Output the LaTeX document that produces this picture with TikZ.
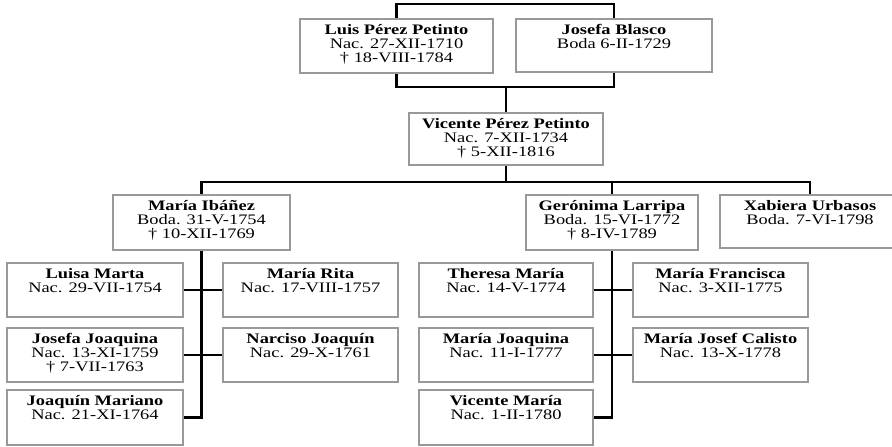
\documentclass[tikz,border=0pt]{standalone}
\usepackage{fontspec}
\setmainfont{Liberation Serif}[FakeStretch=1.27]
\usetikzlibrary{backgrounds}
\tikzset{
  pbox/.style={draw=black!40, line width=2pt, inner sep=0pt},
  ptext/.style={anchor=north, align=center, inner sep=0pt, yshift=-6pt,
    font=\fontsize{14.5}{14}\selectfont,
    execute at begin node={\rule{0pt}{11pt}}},
  conn/.style={draw=black, line width=2.6pt, line cap=rect}
}
\begin{document}
\begin{tikzpicture}[x=1pt,y=-1pt]
\useasboundingbox (0,0) rectangle (892,447);
% boxes
\node[pbox, minimum width=193pt, minimum height=54pt] (luis) at (396.5,46) {};
\node[pbox, minimum width=196pt, minimum height=53pt] (josefa) at (614,45.5) {};
\node[pbox, minimum width=194pt, minimum height=52pt] (vicente) at (506,139) {};
\node[pbox, minimum width=177pt, minimum height=55pt] (ibanez) at (201.5,222.5) {};
\node[pbox, minimum width=172pt, minimum height=55pt] (geronima) at (612,222.5) {};
\node[pbox, minimum width=180pt, minimum height=53pt] (xabiera) at (810,221.5) {};
\node[pbox, minimum width=176pt, minimum height=54pt] (luisa) at (95,290) {};
\node[pbox, minimum width=175pt, minimum height=54pt] (rita) at (310.5,290) {};
\node[pbox, minimum width=176pt, minimum height=54pt] (josefaj) at (95,355) {};
\node[pbox, minimum width=175pt, minimum height=54pt] (narciso) at (310.5,355) {};
\node[pbox, minimum width=176pt, minimum height=55pt] (joaquin) at (95,417.5) {};
\node[pbox, minimum width=174pt, minimum height=54pt] (theresa) at (506,290) {};
\node[pbox, minimum width=175pt, minimum height=54pt] (francisca) at (720.5,290) {};
\node[pbox, minimum width=174pt, minimum height=54pt] (mjoaquina) at (506,355) {};
\node[pbox, minimum width=175pt, minimum height=54pt] (calisto) at (720.5,355) {};
\node[pbox, minimum width=174pt, minimum height=55pt] (vmaria) at (506,417.5) {};
% texts
\node[ptext] (luis-t) at (luis.north) {\textbf{Luis Pérez Petinto}\\Nac. 27-XII-1710\\† 18-VIII-1784};
\node[ptext] (josefa-t) at (josefa.north) {\textbf{Josefa Blasco}\\Boda 6-II-1729};
\node[ptext] (vicente-t) at (vicente.north) {\textbf{Vicente Pérez Petinto}\\Nac. 7-XII-1734\\† 5-XII-1816};
\node[ptext] (ibanez-t) at (ibanez.north) {\textbf{María Ibáñez}\\Boda. 31-V-1754\\† 10-XII-1769};
\node[ptext] (geronima-t) at (geronima.north) {\textbf{Gerónima Larripa}\\Boda. 15-VI-1772\\† 8-IV-1789};
\node[ptext] (xabiera-t) at (xabiera.north) {\textbf{Xabiera Urbasos}\\Boda. 7-VI-1798};
\node[ptext] (luisa-t) at (luisa.north) {\textbf{Luisa Marta}\\Nac. 29-VII-1754};
\node[ptext] (rita-t) at (rita.north) {\textbf{María Rita}\\Nac. 17-VIII-1757};
\node[ptext] (josefaj-t) at (josefaj.north) {\textbf{Josefa Joaquina}\\Nac. 13-XI-1759\\† 7-VII-1763};
\node[ptext] (narciso-t) at (narciso.north) {\textbf{Narciso Joaquín}\\Nac. 29-X-1761};
\node[ptext] (joaquin-t) at (joaquin.north) {\textbf{Joaquín Mariano}\\Nac. 21-XI-1764};
\node[ptext] (theresa-t) at (theresa.north) {\textbf{Theresa María}\\Nac. 14-V-1774};
\node[ptext] (francisca-t) at (francisca.north) {\textbf{María Francisca}\\Nac. 3-XII-1775};
\node[ptext] (mjoaquina-t) at (mjoaquina.north) {\textbf{María Joaquina}\\Nac. 11-I-1777};
\node[ptext] (calisto-t) at (calisto.north) {\textbf{María Josef Calisto}\\Nac. 13-X-1778};
\node[ptext] (vmaria-t) at (vmaria.north) {\textbf{Vicente María}\\Nac. 1-II-1780};
% connectors
\coordinate (mb) at (506,87);
\coordinate (hb) at (506,182);
\begin{pgfonlayer}{background}
\draw[conn] (luis.north) -- ++(0,-14) -| (josefa.north);
\draw[conn] (luis.south) |- (mb) -| (josefa.south);
\draw[conn] (mb) -- (vicente.north);
\draw[conn] (vicente.south) -- (hb);
\draw[conn] (ibanez.north) |- (xabiera.north |- hb) -- (xabiera.north);
\draw[conn] (geronima.north) -- (geronima.north |- hb);
\draw[conn] (ibanez.south) |- (joaquin.east);
\draw[conn] (luisa.east) -- (rita.west);
\draw[conn] (josefaj.east) -- (narciso.west);
\draw[conn] (geronima.south) |- (vmaria.east);
\draw[conn] (theresa.east) -- (francisca.west);
\draw[conn] (mjoaquina.east) -- (calisto.west);
\end{pgfonlayer}
\end{tikzpicture}
\end{document}
